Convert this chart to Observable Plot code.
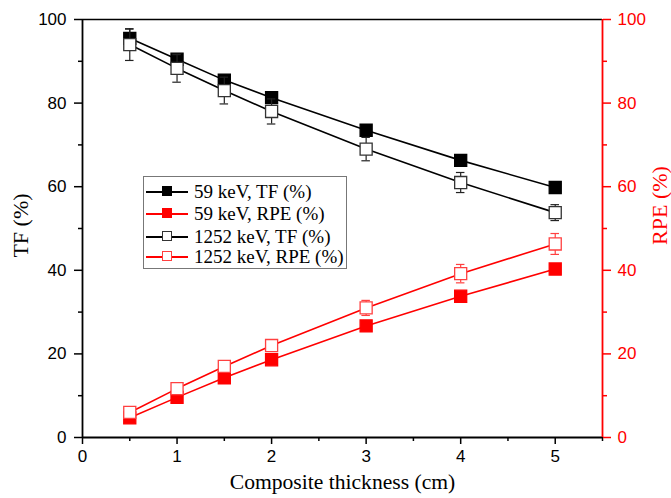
<!DOCTYPE html>
<html><head><meta charset="utf-8">
<script src="https://cdn.jsdelivr.net/npm/d3@7"></script>
<script src="https://cdn.jsdelivr.net/npm/@observablehq/plot@0.6"></script>
<style>
body{margin:0;background:#fff;}
#wrap{position:relative;width:671px;height:498px;}
#legend{position:absolute;left:143px;top:176px;width:204px;height:93px;border:1px solid #777;box-sizing:border-box;background:#fff;font-family:"Liberation Serif","Times New Roman",Times,serif;font-size:19px;}
.row{position:absolute;left:0;height:22px;display:flex;align-items:center;}
.sw{position:relative;width:46px;height:22px;margin-left:2px;}
.sw .ln{position:absolute;top:10px;height:2px;width:42px;left:0;}
.sw .sq{position:absolute;top:5px;left:16px;width:10px;height:10px;box-sizing:border-box;}
.lab{margin-left:2px;}
</style>
</head><body>
<div id="wrap"></div>
<script>
const thickness = [0.5, 1, 1.5, 2, 3, 4, 5];
const tf59 = [95.5, 90.5, 85.5, 81.3, 73.5, 66.3, 59.8];
const tf59Err = [2.2, 1.0, 1.0, 1.0, 1.0, 1.0, 1.0];
const tf1252 = [94.0, 88.3, 83.0, 78.0, 69.0, 61.0, 53.8];
const tf1252Err = [3.8, 3.3, 3.2, 3.0, 2.8, 2.4, 1.9];
const rpe59 = [4.7, 9.6, 14.3, 18.6, 26.7, 33.8, 40.3];
const rpe59Err = [0.5, 0.5, 0.5, 0.5, 0.5, 0.5, 0.5];
const rpe1252 = [6.0, 11.7, 17.0, 22.0, 31.0, 39.2, 46.3];
const rpe1252Err = [1.2, 1.2, 1.3, 1.0, 1.8, 2.2, 2.5];
const xTicks = [0, 1, 2, 3, 4, 5];
const xMinor = [0.5, 1.5, 2.5, 3.5, 4.5, 5.5];
const yTicks = [0, 20, 40, 60, 80, 100];
const yMinor = [10, 30, 50, 70, 90];
const seriesNames = ["59 keV, TF (%)", "59 keV, RPE (%)", "1252 keV, TF (%)", "1252 keV, RPE (%)"];

const SERIF = "'Liberation Serif', 'Times New Roman', Times, serif";
const SANS = "'Liberation Sans', Arial, Helvetica, sans-serif";
const RED = "#ff0000", LRED = "#ff4040";
const series = [
  {name: seriesNames[0], v: tf59, e: tf59Err, stroke: "black", fill: "black", bar: "#222"},
  {name: seriesNames[1], v: rpe59, e: rpe59Err, stroke: RED, fill: RED, bar: RED},
  {name: seriesNames[2], v: tf1252, e: tf1252Err, stroke: "black", fill: "white", bar: "#222", ms: "#333"},
  {name: seriesNames[3], v: rpe1252, e: rpe1252Err, stroke: RED, fill: "white", bar: LRED, ms: LRED}
];
const marks = [];
for (const s of series) {
  const data = thickness.map((x, i) => ({x, y: s.v[i], lo: s.v[i] - s.e[i], hi: s.v[i] + s.e[i]}));
  marks.push(Plot.line(data, {x: "x", y: "y", stroke: s.stroke, strokeWidth: 1.6}));
  marks.push(Plot.ruleX(data, {x: "x", y1: "lo", y2: "hi", stroke: s.bar, strokeWidth: 1.2}));
  marks.push(Plot.ruleY(data, {y: "lo", x1: d => d.x - 0.045, x2: d => d.x + 0.045, stroke: s.bar, strokeWidth: 1.2}));
  marks.push(Plot.ruleY(data, {y: "hi", x1: d => d.x - 0.045, x2: d => d.x + 0.045, stroke: s.bar, strokeWidth: 1.2}));
  marks.push(Plot.dot(data, {x: "x", y: "y", symbol: "square", r: 6.8, fill: s.fill, stroke: s.ms || s.fill, strokeWidth: 1.3}));
}
const fmt = d3.format("d");
const chart = Plot.plot({
  width: 671, height: 498,
  marginLeft: 82, marginRight: 69, marginTop: 19, marginBottom: 61,
  style: {fontFamily: SANS, fontSize: "17px", background: "white"},
  x: {domain: [0, 5.5]},
  y: {domain: [0, 100]},
  marks: [
    Plot.axisX({ticks: xTicks, tickFormat: fmt, tickSize: 7, tickPadding: 5, label: null, fontSize: 17, fontFamily: SANS, stroke: "black", strokeWidth: 1.5}),
    Plot.axisX({ticks: xMinor, tickSize: 4, tickFormat: () => "", label: null, stroke: "black", strokeWidth: 1.5}),
    Plot.axisY({ticks: yTicks, tickFormat: fmt, tickSize: 8, tickPadding: 8, label: null, fontSize: 17, fontFamily: SANS, stroke: "black", strokeWidth: 1.5}),
    Plot.axisY({ticks: yMinor, tickSize: 4, tickFormat: () => "", label: null, stroke: "black", strokeWidth: 1.5}),
    Plot.axisY({anchor: "right", ticks: yTicks, tickFormat: fmt, tickSize: 8, tickPadding: 7, label: null, fontSize: 17, fontFamily: SANS, stroke: RED, fill: RED, strokeWidth: 1.5}),
    Plot.axisY({anchor: "right", ticks: yMinor, tickSize: 4, tickFormat: () => "", label: null, stroke: RED, strokeWidth: 1.5}),
    Plot.ruleY([100], {stroke: "black", strokeWidth: 1.3}),
    Plot.ruleY([0], {stroke: "black", strokeWidth: 1.8}),
    Plot.ruleX([0], {stroke: "black", strokeWidth: 1.8}),
    Plot.ruleX([5.5], {stroke: RED, strokeWidth: 1.8}),
    ...marks,
    Plot.text(["TF (%)"], {frameAnchor: "left", textAnchor: "middle", dx: -62, dy: -3, rotate: -90, fontFamily: SERIF, fontSize: 22, fill: "black"}),
    Plot.text(["RPE (%)"], {frameAnchor: "right", textAnchor: "middle", dx: 57, dy: -23, rotate: -90, fontFamily: SERIF, fontSize: 22, fill: RED}),
    Plot.text(["Composite thickness (cm)"], {frameAnchor: "bottom", dy: 51, fontFamily: SERIF, fontSize: 21.6, fill: "black"})
  ]
});
const wrap = document.getElementById("wrap");
wrap.appendChild(chart);

const leg = document.createElement("div");
leg.id = "legend";
const legStyle = [
  {line: "black", fill: "black", border: "black"},
  {line: RED, fill: RED, border: RED},
  {line: "black", fill: "white", border: "#333"},
  {line: RED, fill: "white", border: LRED}
];
const tops = [4, 26, 49, 69];
seriesNames.forEach((n, i) => {
  const r = document.createElement("div");
  r.className = "row";
  r.style.top = tops[i] + "px";
  const st = legStyle[i];
  r.innerHTML = `<div class="sw"><div class="ln" style="background:${st.line}"></div><div class="sq" style="background:${st.fill};border:1.3px solid ${st.border}"></div></div><span class="lab">${n}</span>`;
  leg.appendChild(r);
});
wrap.appendChild(leg);
</script>
</body></html>
